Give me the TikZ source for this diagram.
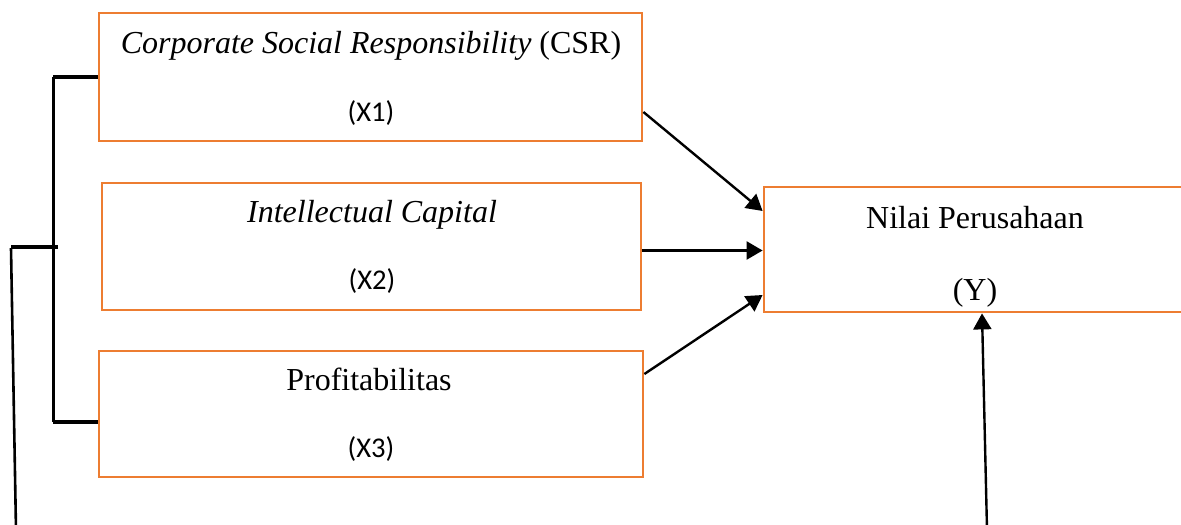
\documentclass[tikz,border=0pt]{standalone}
\usepackage{fontspec}
\setmainfont{Liberation Serif}
\newfontfamily\calibri{Carlito}
\usetikzlibrary{arrows.meta}
\definecolor{boxorange}{RGB}{237,125,49}
\tikzset{
  varbox/.style={draw=boxorange, line width=1.4pt, inner sep=0pt},
  title/.style={anchor=base, font=\fontsize{16}{19}\selectfont},
  code/.style={anchor=base, font=\calibri\fontsize{14.3}{17}\selectfont},
  link/.style={line width=1.2pt, -{Triangle[length=8pt,width=9pt]}},
  brace/.style={line width=2.2pt},
}
\begin{document}
\begin{tikzpicture}[x=0.5pt,y=-0.5pt]
      \useasboundingbox (0,0) rectangle (1181,524);

      \node[varbox, minimum width=271.5pt, minimum height=64pt] (csr) at (370.5,77) {};
      \node[varbox, minimum width=269.5pt, minimum height=63.5pt] (ic) at (371.5,246.5) {};
      \node[varbox, minimum width=272pt, minimum height=63pt] (prof) at (371,414) {};
      \node[varbox, minimum width=211pt, minimum height=62.5pt] (nilai) at (975,249.5) {};

      \node[title] (csrname) at (371,54) {\textit{Corporate Social Responsibility} (CSR)};
      \node[code] (csrcode) at (371,121) {(X1)};
      \node[title] (icname) at (372,222) {\textit{Intellectual Capital}};
      \node[code] (iccode) at (372,289) {(X2)};
      \node[title] (profname) at (369,390) {Profitabilitas};
      \node[code] (profcode) at (371,457) {(X3)};
      \node[title] (nilainame) at (975,228) {Nilai Perusahaan};
      \node[title] (nilaicode) at (975,300) {(Y)};

      \draw[link] ([yshift=-17.5pt]csr.east) -- ([yshift=19.25pt]nilai.west);
      \draw[link] ([yshift=-2pt]ic.east) -- ([yshift=-2pt]ic.east -| nilai.west);
      \draw[link] ([yshift=20pt]prof.east) -- ([yshift=-22.75pt]nilai.west);

      \coordinate (ybase) at (987,530);
      \draw[link] (ybase) -- ([xshift=3.5pt]nilai.south);

      \coordinate (jtop) at (53,77);
      \coordinate (jbot) at (53,422);
      \coordinate (jmid) at (58,247);
      \coordinate (tick) at (11,247);
      \coordinate (tail) at (16,530);
      \draw[brace] (csr.west) -- (jtop);
      \draw[brace] ([yshift=-4pt]prof.west) -- (jbot);
      \draw[line width=1.5pt] (jtop) -- (jbot);
      \draw[brace] (jmid) -- (tick);
      \draw[line width=1.3pt] ([yshift=-0.5pt]tick) -- (tail);

\end{tikzpicture}
\end{document}
